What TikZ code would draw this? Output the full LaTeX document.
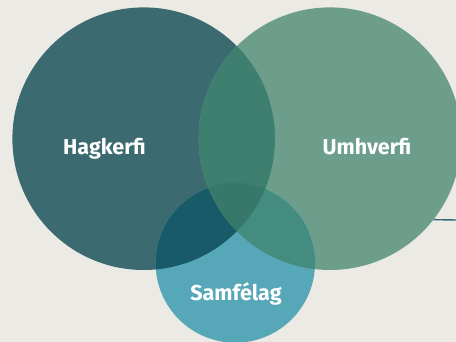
\documentclass[tikz,border=0pt]{standalone}
\usepackage{fontspec}
\setmainfont{Fira Sans}
\usetikzlibrary{positioning}

\definecolor{bgpaper}{HTML}{ECEAE4}
\definecolor{hagcol}{HTML}{3B6B70}
\definecolor{umhcol}{HTML}{6C9E8B}
\definecolor{samcol}{HTML}{56A8B8}
\definecolor{hagumh}{HTML}{3E7F70}
\definecolor{hagsam}{HTML}{185A68}
\definecolor{umhsam}{HTML}{448B80}
\definecolor{allthree}{HTML}{38786B}
\definecolor{linecol}{HTML}{2F6A78}

\begin{document}
\begin{tikzpicture}[x=1pt, y=-1pt]
        \tikzstyle{set}=[circle, draw=none, inner sep=0pt]
        \tikzstyle{setlabel}=[text=white, anchor=base, font=\bfseries\fontsize{21.5}{26}\selectfont]
        
        \fill[bgpaper] (0,0) rectangle (456,342);
        \useasboundingbox (0,0) rectangle (456,342);
        
        \coordinate (hk) at (143.7,138.7);
        \coordinate (uh) at (330,138.7);
        \coordinate (sf) at (235.3,263);
        
        \node   (hagkerfi)  [set, fill=hagcol, minimum size=262.6pt] at (hk) {};
        \node   (umhverfi)  [set, fill=umhcol, minimum size=262.6pt] at (uh) {};
        \node   (samfelag)  [set, fill=samcol, minimum size=159.4pt] at (sf) {};
        
        % overlaps
        \begin{scope}
            \clip (hk) circle (131.3pt);
            \fill[hagumh] (uh) circle (131.3pt);
            \fill[hagsam] (sf) circle (79.7pt);
        \end{scope}
        \begin{scope}
            \clip (uh) circle (131.3pt);
            \fill[umhsam] (sf) circle (79.7pt);
            \clip (hk) circle (131.3pt);
            \fill[allthree] (sf) circle (79.7pt);
        \end{scope}
        
        \node   (hagtext)   [setlabel] at (104.5,155) {Hagkerfi};
        \node   (umhtext)   [setlabel] at (367,155) {Umhverfi};
        \node   (samtext)   [setlabel] at (236,301) {Samfélag};
        
        \coordinate (lineend) at (456,220);
        \draw[linecol, line width=1.4pt] (umhverfi.-38.3) -- (lineend);
        
    \end{tikzpicture}
\end{document}
